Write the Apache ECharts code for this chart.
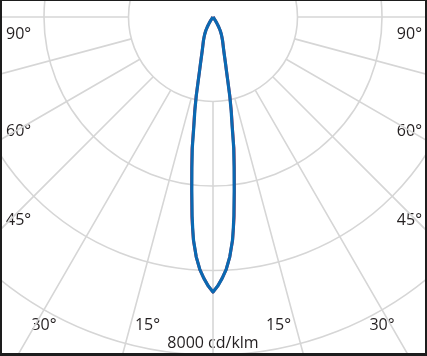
<!DOCTYPE html>
<html>
<head>
<meta charset="utf-8">
<script src="https://cdn.jsdelivr.net/npm/echarts@6/dist/echarts.min.js"></script>
<style>
html,body{margin:0;padding:0;background:#fff;}
#wrap{position:relative;width:427px;height:356px;}
#chart{position:absolute;left:0;top:0;width:427px;height:356px;}
#frame{position:absolute;left:0;top:0;width:427px;height:356px;box-sizing:border-box;border-style:solid;border-color:#1d1d1d;border-width:1px 2px 3px 2px;pointer-events:none;}
</style>
</head>
<body>
<div id="wrap"><div id="chart"></div><div id="frame"></div></div>
<script>
// Gamma angles (degrees from nadir)
const gammas = [0, 1, 2, 3, 4, 5, 5.5, 6, 7, 8, 9, 10, 11, 12, 13, 14, 15, 16, 18, 20, 22, 24, 26, 28, 30, 32, 34, 36, 38, 45, 60, 75, 90];
// Luminous intensity, cd/klm, plane C90-C270 (blue)
const blueI = [6510, 6370, 6190, 5980, 5690, 5300, 5020, 4730, 4120, 3590, 3130, 2600, 2250, 1900, 1560, 1320, 1150, 1010, 815, 695, 605, 518, 440, 362, 267, 170, 80, 20, 0, 0, 0, 0, 0];
// Luminous intensity, cd/klm, plane C0-C180 (red)
const redI  = [6510, 6370, 6190, 5980, 5690, 5310, 5040, 4770, 4160, 3625, 3170, 2630, 2275, 1920, 1570, 1320, 1150, 1010, 815, 695, 605, 518, 440, 362, 267, 170, 80, 20, 0, 0, 0, 0, 0];
// Angle tick labels shown on the diagram
const leftSideTicks = [90, 60, 45];
const bottomTicks = [30, 15];
const unitLabel = '8000 cd/klm';
// Ring values of the grid (cd/klm)
const ringMin = 2000, ringMax = 12000, ringStep = 2000, scaleMax = 8000;

function curve(vals) {
  const pts = [];
  for (let i = gammas.length - 1; i >= 0; i--) pts.push([vals[i], gammas[i]]);
  for (let i = 1; i < gammas.length; i++) pts.push([vals[i], 360 - gammas[i]]);
  return pts;
}

const CX = 213, CY = 17, R_OUT = 338, R_IN = R_OUT / 4;
const gridColor = '#d6d6d6';
const txtColor = '#231f20';
const font = '16px "Open Sans", sans-serif';

const sideY = {90: 34, 60: 131, 45: 220};
const bottomX = {30: 44, 15: 147.5};
const graphics = [];
leftSideTicks.forEach(t => {
  graphics.push({type:'text', x:6, y:sideY[t], style:{text:t+'°', fill:txtColor, font:font, align:'left', verticalAlign:'middle'}});
  graphics.push({type:'text', x:422, y:sideY[t], style:{text:t+'°', fill:txtColor, font:font, align:'right', verticalAlign:'middle'}});
});
bottomTicks.forEach(t => {
  graphics.push({type:'text', x:bottomX[t], y:325, style:{text:t+'°', fill:txtColor, font:font, align:'center', verticalAlign:'middle'}});
  graphics.push({type:'text', x:2*CX - bottomX[t], y:325, style:{text:t+'°', fill:txtColor, font:font, align:'center', verticalAlign:'middle'}});
});
graphics.push({type:'text', x:CX, y:343, style:{text:unitLabel, fill:txtColor, font:font, align:'center', verticalAlign:'middle'}});

const outerGrid = R_IN + (ringMax - ringMin) / ringStep * R_IN;

const chart = echarts.init(document.getElementById('chart'), null, {renderer:'canvas'});
chart.setOption({
  animation: false,
  backgroundColor: '#ffffff',
  polar: [
    {center:[CX, CY], radius:[R_IN, outerGrid]},
    {center:[CX, CY], radius:R_OUT}
  ],
  angleAxis: [
    {polarIndex:0, type:'value', min:0, max:360, interval:15, startAngle:270, clockwise:true,
     axisLine:{show:false}, axisTick:{show:false}, axisLabel:{show:false},
     splitLine:{show:true, lineStyle:{color:gridColor, width:1.6}}},
    {polarIndex:1, type:'value', min:0, max:360, startAngle:270, clockwise:true,
     axisLine:{show:false}, axisTick:{show:false}, axisLabel:{show:false}, splitLine:{show:false}}
  ],
  radiusAxis: [
    {polarIndex:0, type:'value', min:ringMin, max:ringMax, interval:ringStep,
     axisLine:{show:false}, axisTick:{show:false}, axisLabel:{show:false},
     splitLine:{show:true, lineStyle:{color:gridColor, width:1.6}}},
    {polarIndex:1, type:'value', min:0, max:scaleMax,
     axisLine:{show:false}, axisTick:{show:false}, axisLabel:{show:false}, splitLine:{show:false}}
  ],
  series: [
    {type:'line', coordinateSystem:'polar', polarIndex:1, data:curve(redI), symbol:'none',
     lineStyle:{color:'#e8323c', width:3, join:'round'}, z:3},
    {type:'line', coordinateSystem:'polar', polarIndex:1, data:curve(blueI), symbol:'none',
     lineStyle:{color:'#0a69b2', width:3.2, join:'round'}, z:4}
  ],
  graphic: graphics
});
</script>
</body>
</html>
